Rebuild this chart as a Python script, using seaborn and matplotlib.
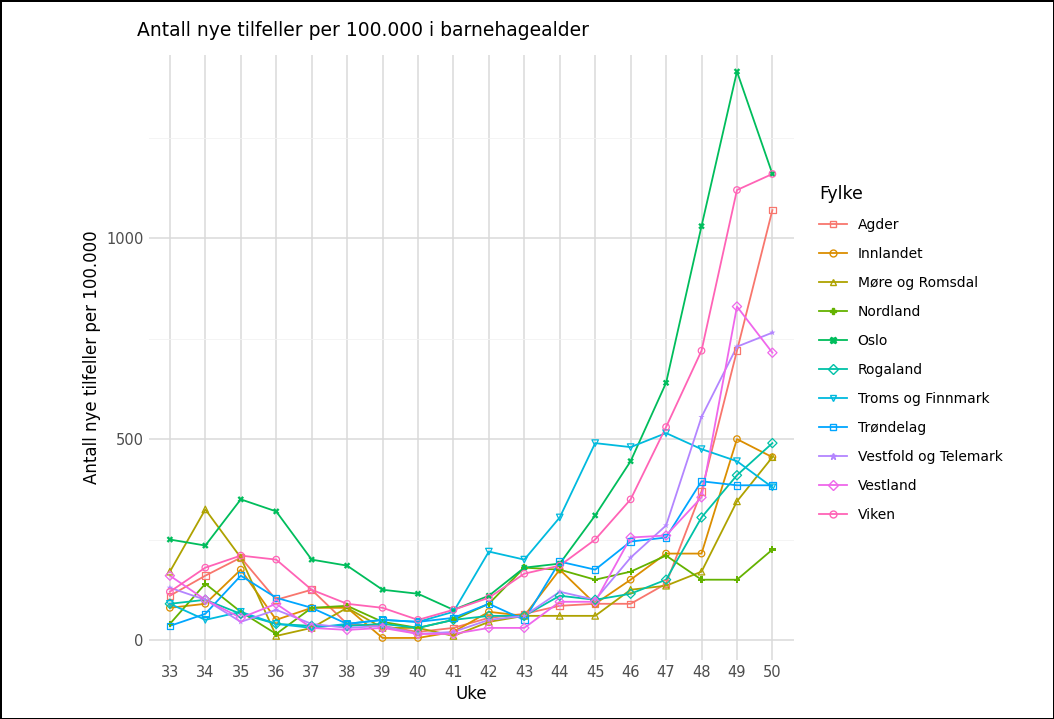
import matplotlib
matplotlib.use("Agg")
import matplotlib.pyplot as plt
import seaborn as sns
import pandas as pd

weeks = list(range(33, 51))
fylker = ["Agder", "Innlandet", "Møre og Romsdal", "Nordland", "Oslo", "Rogaland",
          "Troms og Finnmark", "Trøndelag", "Vestfold og Telemark", "Vestland", "Viken"]
agder = [110,160,205,100,125,40,35,20,30,55,65,85,90,90,140,370,720,1070]
innlandet = [80,90,175,50,80,80,5,5,20,70,60,175,90,150,215,215,500,455]
more = [170,325,205,10,30,80,30,30,10,45,60,60,60,125,135,170,345,455]
nordland = [40,140,70,15,80,85,45,30,50,90,180,175,150,170,210,150,150,225]
oslo = [250,235,350,320,200,185,125,115,75,110,180,190,310,445,640,1030,1415,1160]
rogaland = [90,100,65,40,35,35,40,30,50,60,60,110,100,115,150,305,410,490]
troms = [90,50,70,40,30,40,50,45,70,220,200,305,490,480,515,475,445,380]
trondelag = [35,65,160,105,80,40,50,45,55,90,50,195,175,245,255,395,385,385]
vestfold = [130,100,45,75,40,30,35,15,20,50,60,120,100,205,285,555,730,765]
vestland = [160,100,55,90,30,25,30,15,15,30,30,95,95,255,260,355,830,715]
viken = [120,180,210,200,125,90,80,50,75,105,165,185,250,350,530,720,1120,1160]
series = [agder, innlandet, more, nordland, oslo, rogaland, troms, trondelag, vestfold, vestland, viken]

rows = []
for f, vals in zip(fylker, series):
    for w, v in zip(weeks, vals):
        rows.append({"Uke": w, "Fylke": f, "val": v})
df = pd.DataFrame(rows)

colors = ["#F8766D", "#DB8E00", "#AEA200", "#64B200", "#00BD5C", "#00C1A7",
          "#00BADE", "#00A6FF", "#B385FF", "#EF67EB", "#FF63B6"]
markers = ["s", "o", "^", "P", "X", "D", "v", "s", "*", "D", "o"]

fig = plt.figure(figsize=(10.54, 7.19), dpi=100)
fig.patch.set_edgecolor("black")
fig.patch.set_linewidth(2)
ax = fig.add_axes([0.141, 0.082, 0.612, 0.842])
sns.lineplot(data=df, x="Uke", y="val", hue="Fylke", hue_order=fylker,
             palette=colors, ax=ax, linewidth=1.3, legend=False)
for f, c, m in zip(fylker, colors, markers):
    d = df[df.Fylke == f]
    ax.scatter(d.Uke, d.val, marker=m, facecolors="none" if m not in ("P", "X", "*") else c,
               edgecolors=c if m not in ("P", "X", "*") else "none", s=22, linewidths=0.9, zorder=3)
ax.set_xlim(32.4, 50.6)
ax.set_ylim(-50, 1457)
ax.set_xticks(weeks)
ax.set_yticks([0, 500, 1000])
ax.set_yticks([250, 750, 1250], minor=True)
ax.grid(True, which="major", color="#DADADA", linewidth=1.1)
ax.grid(True, which="minor", axis="y", color="#F2F2F2", linewidth=0.6)
ax.tick_params(which="both", length=0, labelsize=10.5, colors="#4D4D4D")
for s in ax.spines.values():
    s.set_visible(False)
ax.set_xlabel("Uke", fontsize=12)
ax.set_ylabel("Antall nye tilfeller per 100.000", fontsize=12)
fig.text(0.13, 0.958, "Antall nye tilfeller per 100.000 i barnehagealder", fontsize=13.5, va="center")

from matplotlib.lines import Line2D
handles = [Line2D([0], [0], color=c, marker=m, markersize=5,
                  markerfacecolor="none" if m not in ("P", "X", "*") else c, linewidth=1.3)
           for c, m in zip(colors, markers)]
fig.legend(handles, fylker, loc="upper left", bbox_to_anchor=(0.765, 0.76), frameon=False,
           title="Fylke", title_fontsize=12.5, fontsize=10, labelspacing=1.08, alignment="left")
fig.savefig("out.png", dpi=100)
